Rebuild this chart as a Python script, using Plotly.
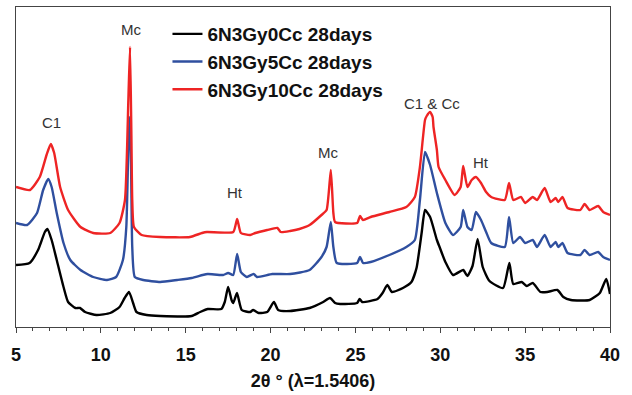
import plotly.graph_objects as go

# ---- data (2-theta in degrees, intensity in arbitrary units, offset as plotted) ----
black_x = [5.0, 5.8, 6.3, 6.7, 6.85, 7.1, 7.4, 7.8, 8.07, 8.5, 8.77, 9.07, 9.75, 10.55, 11.1, 11.4,
           11.66, 11.9, 12.1, 12.7, 13.5, 15.35, 15.85, 16.3, 17.1, 17.3, 17.5, 17.7, 17.8, 18.02,
           18.3, 18.8, 18.97, 19.3, 19.8, 20.2, 20.45, 21.15, 22.3, 23.1, 23.5, 23.8, 24.1, 25.1,
           25.25, 25.4, 26.3, 26.6, 26.88, 27.15, 27.8, 28.3, 28.6, 28.9, 29.1, 29.4, 29.8, 29.98,
           30.3, 30.75, 31.35, 31.6, 31.9, 32.2, 32.5, 32.9, 33.7, 34.07, 34.3, 34.8, 35.1, 35.45,
           35.9, 36.3, 36.9, 37.25, 37.7, 38.8, 39.4, 39.78, 40.0]
black_y = [62, 64, 77, 95, 98, 87, 67, 40, 25, 19, 19, 15, 12, 14, 20, 29,
           35, 24, 15, 12, 11, 11, 15, 18, 18, 25, 40, 27, 24, 34,
           17, 15, 17, 14, 15, 25, 17, 16, 19, 25, 29, 24, 23, 24,
           28, 25, 28, 34, 42, 35, 39, 45, 59, 94, 117, 110, 87, 79,
           65, 52, 57, 51, 61, 88, 60, 46, 39, 64, 43, 45, 41, 44,
           35, 35, 37, 30, 27, 27, 34, 48, 33]

blue_x = [5.0, 5.65, 6.24, 6.6, 6.9, 7.1, 7.4, 7.8, 8.2, 8.8, 9.55, 10.36, 10.9, 11.3, 11.5,
          11.62, 11.7, 11.78, 11.85, 12.0, 12.5, 13.5, 14.5, 15.35, 16.0, 16.3, 17.2, 17.5, 17.8,
          18.03, 18.25, 18.6, 19.0, 19.2, 20.1, 21.15, 22.3, 23.0, 23.3, 23.55, 23.7, 23.9, 25.1,
          25.27, 25.45, 25.9, 27.0, 28.0, 28.5, 28.8, 29.1, 29.4, 29.8, 30.3, 30.75, 31.2, 31.35,
          31.6, 31.85, 32.1, 32.4, 32.7, 33.0, 33.8, 34.05, 34.3, 34.7, 35.0, 35.45, 35.7, 36.15,
          36.5, 36.8, 36.95, 37.2, 37.5, 38.25, 38.5, 38.8, 39.3, 39.6, 40.0]
blue_y = [104, 102, 114, 137, 148, 140, 114, 84, 67, 57, 50, 47, 50, 67, 100,
          180, 210, 160, 80, 50, 47, 45, 47, 49, 52, 53, 52, 54, 52,
          73, 55, 50, 53, 50, 53, 53, 57, 70, 80, 105, 80, 64, 64,
          70, 64, 65, 72, 80, 87, 127, 175, 162, 134, 104, 92, 100, 117,
          100, 97, 115, 107, 95, 84, 80, 110, 84, 90, 84, 87, 80, 92,
          80, 85, 80, 84, 74, 72, 77, 72, 75, 70, 67]

red_x = [5.0, 5.82, 6.4, 6.8, 7.05, 7.25, 7.6, 8.07, 8.8, 9.55, 10.55, 11.1, 11.42, 11.62, 11.72,
         11.8, 11.85, 11.95, 12.4, 13.5, 15.25, 15.96, 16.25, 17.8, 18.03, 18.25, 18.8, 19.1,
         19.8, 20.4, 20.6, 21.15, 21.7, 22.3, 23.0, 23.3, 23.55, 23.7, 23.8, 25.1, 25.27, 25.45,
         25.9, 27.0, 28.0, 28.5, 28.8, 29.1, 29.2, 29.4, 29.55, 29.6, 29.8, 29.9, 30.3, 30.85,
         31.2, 31.35, 31.6, 31.85, 32.1, 32.4, 32.7, 33.0, 33.8, 34.05, 34.3, 34.75, 35.0, 35.45,
         35.7, 36.15, 36.5, 36.8, 36.95, 37.2, 37.5, 38.25, 38.5, 38.8, 39.3, 39.6, 40.0]
red_y = [140, 137, 150, 172, 183, 174, 140, 117, 100, 94, 94, 104, 127, 227, 280,
         190, 127, 100, 92, 90, 90, 94, 95, 95, 108, 94, 92, 94,
         97, 99, 95, 96, 98, 102, 112, 117, 157, 114, 105, 104, 111, 107,
         110, 115, 120, 130, 160, 207, 211, 215, 210, 200, 177, 160, 147, 132,
         140, 161, 140, 147, 150, 144, 135, 130, 127, 144, 127, 130, 124, 130,
         127, 139, 125, 129, 125, 130, 119, 117, 123, 117, 121, 115, 112]

series_names = ["6N3Gy0Cc 28days", "6N3Gy5Cc 28days", "6N3Gy10Cc 28days"]
series_colors = ["#000000", "#2f4f9f", "#ee2424"]

peak_labels = ["C1", "Mc", "Ht", "Mc", "C1 & Cc", "Ht"]
peak_label_x = [7.12, 11.78, 17.9, 23.4, 29.5, 32.4]
peak_label_y = [205, 298, 135, 175, 224, 165]

x_title = "2θ ° (λ=1.5406)"

FONT = "Liberation Sans, Arial, sans-serif"

fig = go.Figure()
for xs, ys, name, col in zip([black_x, blue_x, red_x], [black_y, blue_y, red_y],
                             series_names, series_colors):
    fig.add_trace(go.Scatter(x=xs, y=ys, mode="lines", name=name,
                             line=dict(color=col, width=2.4, shape="spline", smoothing=0.5)))

for t, x, y in zip(peak_labels, peak_label_x, peak_label_y):
    fig.add_annotation(x=x, y=y, text=t, showarrow=False,
                       font=dict(family=FONT, size=15, color="#333333"))

fig.update_layout(
    width=632, height=395,
    margin=dict(l=16, r=22, t=7, b=68),
    paper_bgcolor="white", plot_bgcolor="white",
    font=dict(family=FONT, color="#111111"),
    showlegend=True,
    legend=dict(x=0.255, y=0.975, xanchor="left", yanchor="top",
                bgcolor="rgba(0,0,0,0)",
                font=dict(family=FONT, size=19, color="#111111", weight="bold"),
                tracegroupgap=0),
    xaxis=dict(range=[5, 40], dtick=5, tick0=5,
               showgrid=False, zeroline=False,
               showline=True, linecolor="#444444", linewidth=1, mirror=True,
               ticks="outside", ticklen=5, tickcolor="#444444",
               ticklabelstandoff=6,
               minor=dict(dtick=1, ticks="outside", ticklen=3, tickcolor="#444444"),
               tickfont=dict(family=FONT, size=18, color="#111111", weight="bold"),
               title=dict(text=x_title, standoff=10,
                          font=dict(family=FONT, size=18, color="#111111", weight="bold"))),
    yaxis=dict(range=[0, 320], showticklabels=False, ticks="",
               showgrid=False, zeroline=False,
               showline=True, linecolor="#444444", linewidth=1, mirror=True),
)

fig.write_html("out.html")
